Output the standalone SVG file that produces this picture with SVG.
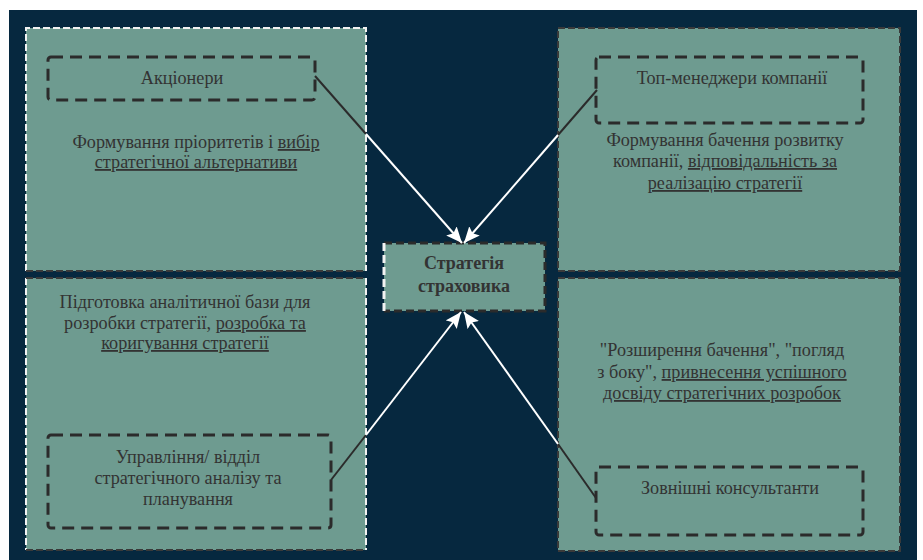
<svg xmlns="http://www.w3.org/2000/svg" width="923" height="560" viewBox="0 0 923 560">
<defs>
<style>
.bg{fill:#ffffff}
.navy{fill:#06283f}
.panel{fill:#6e9b90}
.wd{fill:none;stroke:#f2f2f2;stroke-width:2;stroke-dasharray:7 3}
.dd{fill:none;stroke:#3a3a3a;stroke-width:2;stroke-dasharray:7 3}
.box{fill:none;stroke:#2b2b2b;stroke-width:3;stroke-dasharray:12 7}
.cb{fill:#6e9b90}
.cdd{fill:none;stroke:#2b2b2b;stroke-width:3;stroke-dasharray:8 4}
.cwd{fill:none;stroke:#f2f2f2;stroke-width:3;stroke-dasharray:8 4}
.t{font-family:"Liberation Serif","DejaVu Serif","Times New Roman",serif;font-size:18.2px;fill:#333333;text-anchor:middle}
.tb{font-family:"Liberation Serif","DejaVu Serif","Times New Roman",serif;font-size:18px;font-weight:bold;fill:#333333;text-anchor:middle}
.u{text-decoration:underline}
.cd{stroke:#2b2b2b;stroke-width:2;fill:none}
.cw{stroke:#ffffff;stroke-width:2;fill:none}
</style>
<marker id="ah" markerUnits="userSpaceOnUse" markerWidth="18" markerHeight="16" refX="16" refY="7" orient="auto">
<path d="M0,0 L16,7 L0,14 L3,7 z" fill="#ffffff"/>
</marker>
</defs>
<rect class="bg" x="0" y="0" width="923" height="560"/>
<rect class="navy" x="9" y="10" width="908" height="550"/>

<g id="panel-top-left">
<rect class="panel" x="26" y="28" width="340" height="243"/>
<path class="wd" d="M26,271 L26,28 L366,28 L366,271"/>
<path class="dd" d="M26,271 L366,271"/>
</g>
<g id="panel-bottom-left">
<rect class="panel" x="26" y="278" width="340" height="272"/>
<path class="wd" d="M26,278 L26,550 M366,278 L366,550"/>
<path class="dd" d="M26,278 L366,278 M26,550 L366,550"/>
</g>
<g id="panel-top-right">
<rect class="panel" x="558" y="28" width="342" height="243"/>
<rect class="dd" x="558" y="28" width="342" height="243"/>
</g>
<g id="panel-bottom-right">
<rect class="panel" x="558" y="278" width="342" height="273"/>
<rect class="dd" x="558" y="278" width="342" height="273"/>
</g>

<g id="text-top-left">
<text class="t" x="196" y="148">Формування пріоритетів і <tspan class="u">вибір</tspan></text>
<text class="t" x="196" y="168"><tspan class="u">стратегічної альтернативи</tspan></text>
</g>
<g id="text-top-right">
<text class="t" x="725" y="146">Формування бачення розвитку</text>
<text class="t" x="725" y="167">компанії, <tspan class="u">відповідальність за</tspan></text>
<text class="t" x="725" y="189"><tspan class="u">реалізацію стратегії</tspan></text>
</g>
<g id="text-bottom-left">
<text class="t" x="185" y="308">Підготовка аналітичної бази для</text>
<text class="t" x="185" y="329">розробки стратегії, <tspan class="u">розробка та</tspan></text>
<text class="t" x="185" y="349"><tspan class="u">коригування стратегії</tspan></text>
</g>
<g id="text-bottom-right">
<text class="t" x="722" y="356">"Розширення бачення", "погляд</text>
<text class="t" x="722" y="378">з боку", <tspan class="u">привнесення успішного</tspan></text>
<text class="t" x="722" y="399"><tspan class="u">досвіду стратегічних розробок</tspan></text>
</g>

<g id="node-aktsionery">
<rect class="box" x="48" y="57" width="267" height="43" rx="3"/>
<text class="t" x="182" y="84">Акціонери</text>
</g>
<g id="node-top-menedzhery">
<rect class="box" x="596" y="57" width="267" height="66" rx="3"/>
<text class="t" x="732" y="84">Топ-менеджери компанії</text>
</g>
<g id="node-upravlinnia">
<rect class="box" x="48" y="435" width="283" height="93" rx="3"/>
<text class="t" x="188" y="463">Управління/ відділ</text>
<text class="t" x="188" y="484">стратегічного аналізу та</text>
<text class="t" x="188" y="505">планування</text>
</g>
<g id="node-konsultanty">
<rect class="box" x="596" y="467" width="267" height="68" rx="3"/>
<text class="t" x="730" y="494">Зовнішні консультанти</text>
</g>
<g id="node-center">
<rect class="cb" x="384" y="243" width="161" height="68"/>
<path class="cdd" d="M384,243 L545,243 L545,311 L384,311"/>
<path class="cwd" d="M384,243 L384,311"/>
<text class="tb" x="464" y="269">Стратегія</text>
<text class="tb" x="464" y="292">страховика</text>
</g>

<g id="connectors">
<line class="cd" x1="315" y1="76" x2="366" y2="134"/>
<line class="cw" x1="366" y1="134" x2="462" y2="243" marker-end="url(#ah)"/>
<line class="cd" x1="597" y1="90" x2="558" y2="135"/>
<line class="cw" x1="558" y1="135" x2="464" y2="243" marker-end="url(#ah)"/>
<line class="cd" x1="331" y1="480" x2="366" y2="435"/>
<line class="cw" x1="366" y1="435" x2="461" y2="312" marker-end="url(#ah)"/>
<line class="cd" x1="596" y1="498" x2="558" y2="444"/>
<line class="cw" x1="558" y1="444" x2="464" y2="312" marker-end="url(#ah)"/>
</g>
</svg>
